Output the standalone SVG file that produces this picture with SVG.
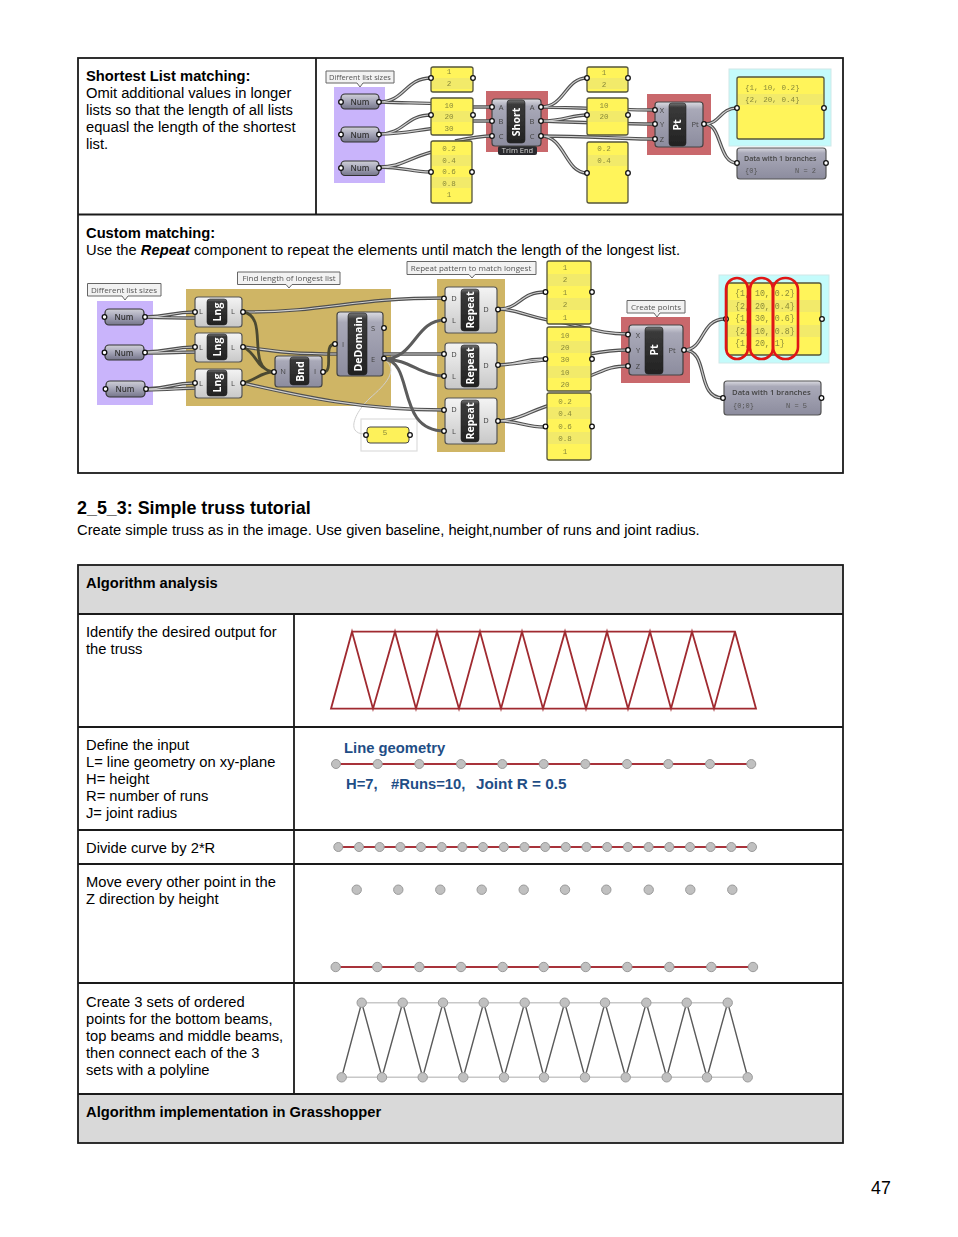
<svg xmlns="http://www.w3.org/2000/svg" xmlns:xlink="http://www.w3.org/1999/xlink" width="958" height="1237" viewBox="0 0 958 1237">
<style>
text{font-family:"Liberation Sans",Arial,sans-serif;fill:#000}
.b{font-size:14.72px}
.bb{font-size:14.72px;font-weight:bold}
.grid{fill:none;stroke:#1a1a1a;stroke-width:1.8}
.wo{fill:none;stroke:#505050;stroke-width:3.4}
.wi{fill:none;stroke:#d0d0d0;stroke-width:1.2}
.wd{fill:none;stroke:#4c4a30;stroke-width:2.800}
.wg{fill:none;stroke:#5c5c5c;stroke-width:3}
.pan{fill:#fff45a;stroke:#55553a;stroke-width:1.300}
.st{fill:#f2ea6a}
.pt{font-family:"Liberation Mono",monospace;font-size:7.6px;fill:#8a8a3a;text-anchor:middle}
.pl{font-family:"Liberation Mono",monospace;font-size:7.6px;fill:#8a8a3a}
.pm{font-size:8.3px}
.comp{fill:url(#gb);stroke:#444;stroke-width:1.200}
.lt{fill:url(#gl);stroke:#555;stroke-width:1.200}
.blk{fill:url(#gk);stroke:#222;stroke-width:.6}
.nm{font-family:"Open Sans",sans-serif;font-size:10.5px;font-weight:bold;fill:#fff;text-anchor:middle}
.pn{font-family:"Open Sans",sans-serif;font-size:7.5px;fill:#444;text-anchor:middle}
.num{fill:url(#gn);stroke:#333;stroke-width:1.200}
.nt{font-family:"Open Sans",sans-serif;font-size:8px;font-weight:600;fill:#333;text-anchor:middle}
.p{fill:#fff;stroke:#111;stroke-width:1.300}
.tip{fill:#f2f2f2;stroke:#666;stroke-width:1}
.tt{font-family:"Open Sans",sans-serif;font-size:8px;fill:#555;text-anchor:middle}
.trim{font-family:"Open Sans",sans-serif;font-size:7.5px;fill:#d8d8d8;text-anchor:middle}
.pur{fill:#c9b4fb}.gold{fill:#cfb565}.red{fill:#c9686c}.cy{fill:#c4fbfb;stroke:#cfe8e8}
.oval{fill:none;stroke:#e01818;stroke-width:2.6}
.view{fill:url(#gb);stroke:#555;stroke-width:1.200}
.vt{font-family:"Open Sans",sans-serif;font-size:7.7px;font-weight:600;fill:#444}
.vs{font-family:"Liberation Mono",monospace;font-size:7px;fill:#555}
.tr{fill:none;stroke:#a02a30;stroke-width:1.800}
.rl{stroke:#a8323a;stroke-width:2}
.j{fill:#c0c0c0;stroke:#9a9a9a;stroke-width:1}
.tg{stroke:#5a5a5a;stroke-width:1.400;fill:none}
.tl{stroke:#c8c8c8;stroke-width:1.500}
.bl{font-weight:bold;font-size:14.8px;fill:#1f4e86}
.h{font-size:17.9px;font-weight:bold}
.pg{font-size:17.8px}
</style>
<defs>
<filter id="soft" x="-2%" y="-2%" width="104%" height="104%"><feGaussianBlur stdDeviation="0.4"/></filter>
<linearGradient id="gb" x1="0" y1="0" x2="0" y2="1"><stop offset="0" stop-color="#dcdce2"/><stop offset=".16" stop-color="#a9a9b8"/><stop offset="1" stop-color="#8c8c9e"/></linearGradient>
<linearGradient id="gl" x1="0" y1="0" x2="0" y2="1"><stop offset="0" stop-color="#f4f4f4"/><stop offset="1" stop-color="#c8c8c8"/></linearGradient>
<linearGradient id="gk" x1="0" y1="0" x2="0" y2="1"><stop offset="0" stop-color="#777"/><stop offset=".1" stop-color="#3a3a3a"/><stop offset="1" stop-color="#222"/></linearGradient>
<linearGradient id="gn" x1="0" y1="0" x2="0" y2="1"><stop offset="0" stop-color="#d0d0d8"/><stop offset=".45" stop-color="#a8a8ba"/><stop offset="1" stop-color="#75758a"/></linearGradient>
<path id="w1" d="M379 102C405 102 405 78 431 78M379 102C410 103 420 103 445 104M379 134C405 134 405 115 431 115M379 134C405 134 415 130 445 127M379 167C405 167 410 155 445 149M379 167C405 167 410 172 431 172M455 107H492M455 121H492M455 141C470 138 480 136 492 136M541 107C565 107 565 78 587 78M541 107C590 108 620 110 655 110M541 121C565 121 570 115 587 115M541 121C590 123 620 124 655 124M541 136C590 136 620 139 655 139M541 136C565 136 565 173 587 173M705 124C720 124 720 108 737 108M705 124C722 124 718 163 737 163"/>
<path id="w2" d="M145 317C170 317 170 312 195 312M145 317C170 318 180 318 200 318M145 352C170 352 170 347 195 347M145 353C170 353 180 352 200 352M145 389C170 389 170 383 195 383M145 390C170 390 180 388 200 388M243 312C330 312 350 298 445 298M243 347C270 350 280 354 340 354H445M243 383C300 396 360 410 445 410"/>
<path id="w3" d="M243 312C270 316 245 368 273 372M243 347C258 354 255 368 273 372M243 383C255 380 262 372 273 372M323 372C335 372 322 344 335 344"/>
<path id="w5" d="M384 359C415 359 415 320 445 320M384 359C410 359 420 376 445 376M384 359C415 362 395 431 445 431"/>
<path id="w4" d="M499 309C520 309 520 292 545 292M499 309C520 310 530 318 560 322C590 328 600 334 628 334M499 365C520 365 520 359 545 359M499 365C525 363 560 358 590 354C605 351 615 350 628 350M499 421C520 420 530 410 560 402M499 421C520 421 525 427 545 427M590 376C605 370 610 366 628 366M684 350C705 350 700 319 725 319M684 350C710 350 695 398 723 398"/>
</defs>

<g id="page"><rect width="958" height="1237" fill="#fff"/></g>

<g id="table-1">
<rect class="grid" x="78" y="58" width="765" height="415"/>
<path class="grid" d="M78 214.500H843M316 58V214.500"/>
<text class="bb" x="86" y="81">Shortest List matching:</text>
<text class="b" x="86" y="98">Omit additional values in longer</text>
<text class="b" x="86" y="115">lists so that the length of all lists</text>
<text class="b" x="86" y="132">equasl the length of the shortest</text>
<text class="b" x="86" y="149">list.</text>
<text class="bb" x="86" y="238">Custom matching:</text>
<text class="b" x="86" y="255">Use the <tspan font-weight="bold" font-style="italic">Repeat</tspan> component to repeat the elements until match the length of the longest list.</text>
</g>

<g id="definition-shortest" filter="url(#soft)">
<g id="backdrops-1">
<rect class="pur" x="334" y="87" width="51" height="96"/>
<rect class="red" x="486" y="91" width="62" height="61"/>
<rect class="red" x="647" y="94" width="64" height="61"/>
<rect class="cy" x="729" y="69" width="102" height="77"/>
</g>
<g id="connectors-1"><use href="#w1" class="wo"/><use href="#w1" class="wi"/></g>
<g id="tip-sizes-1"><path class="tip" d="M326 71H394V83H363L360 87L357 83H326Z"/><text class="tt" style="font-size:7.500px" x="360" y="80">Different list sizes</text></g>
<g id="num-a"><rect class="num" x="341" y="94" width="38" height="15" rx="4"/><circle class="p" cx="341" cy="102" r="2.300"/><circle class="p" cx="379" cy="102" r="2.300"/><text class="nt" x="360" y="104.500">Num</text></g>
<g id="num-b"><rect class="num" x="341" y="127" width="38" height="15" rx="4"/><circle class="p" cx="341" cy="134.500" r="2.300"/><circle class="p" cx="379" cy="134.500" r="2.300"/><text class="nt" x="360" y="137.500">Num</text></g>
<g id="num-c"><rect class="num" x="341" y="161" width="38" height="14.500" rx="4"/><circle class="p" cx="341" cy="168" r="2.300"/><circle class="p" cx="379" cy="168" r="2.300"/><text class="nt" x="360" y="171">Num</text></g>
<g id="panel-a1"><rect class="pan" x="431" y="67" width="42" height="25" rx="2"/><rect class="st" x="432" y="78" width="40" height="11"/><circle class="p" cx="431" cy="78" r="2.300"/><circle class="p" cx="473" cy="78" r="2.300"/><text class="pt" x="449" y="74">1</text><text class="pt" x="449" y="86">2</text></g>
<g id="panel-a2"><rect class="pan" x="431" y="98" width="42" height="37" rx="2"/><rect class="st" x="432" y="111" width="40" height="11"/><circle class="p" cx="431" cy="115" r="2.300"/><circle class="p" cx="473" cy="115" r="2.300"/><text class="pt" x="449" y="107.500">10</text><text class="pt" x="449" y="119">20</text><text class="pt" x="449" y="131">30</text></g>
<g id="panel-a3"><rect class="pan" x="431" y="141" width="41" height="62" rx="2"/><rect class="st" x="432" y="155" width="39" height="11"/><rect class="st" x="432" y="177" width="39" height="11"/><circle class="p" cx="431" cy="172" r="2.300"/><circle class="p" cx="472" cy="172" r="2.300"/><text class="pt" x="449" y="151">0.2</text><text class="pt" x="449" y="162.500">0.4</text><text class="pt" x="449" y="174">0.6</text><text class="pt" x="449" y="185.500">0.8</text><text class="pt" x="449" y="197">1</text></g>
<g id="short-end"><rect x="498" y="146" width="39" height="9" rx="2" fill="#2c2c2e"/><text class="trim" x="517.500" y="153">Trim End</text>
<rect class="comp" x="492" y="99" width="49" height="47" rx="3"/><rect class="blk" x="507" y="100" width="18" height="43" rx="3"/><text class="nm" transform="translate(520 122) rotate(-90)">Short</text>
<text class="pn" x="501" y="110">A</text><text class="pn" x="501" y="124">B</text><text class="pn" x="501" y="139">C</text><text class="pn" x="532" y="110">A</text><text class="pn" x="532" y="124">B</text><text class="pn" x="532" y="139">C</text>
<circle class="p" cx="492" cy="107" r="2.300"/><circle class="p" cx="492" cy="121" r="2.300"/><circle class="p" cx="492" cy="136" r="2.300"/><circle class="p" cx="541" cy="107" r="2.300"/><circle class="p" cx="541" cy="121" r="2.300"/><circle class="p" cx="541" cy="136" r="2.300"/></g>
<g id="panel-b1"><rect class="pan" x="587" y="67" width="41" height="25" rx="2"/><rect class="st" x="588" y="78" width="39" height="11"/><circle class="p" cx="587" cy="78" r="2.300"/><circle class="p" cx="628" cy="78" r="2.300"/><text class="pt" x="604" y="75">1</text><text class="pt" x="604" y="86.500">2</text></g>
<g id="panel-b2"><rect class="pan" x="587" y="98" width="41" height="37" rx="2"/><rect class="st" x="588" y="111" width="39" height="11"/><circle class="p" cx="587" cy="115" r="2.300"/><circle class="p" cx="628" cy="115" r="2.300"/><text class="pt" x="604" y="107.500">10</text><text class="pt" x="604" y="119">20</text></g>
<g id="panel-b3"><rect class="pan" x="587" y="142" width="41" height="61" rx="2"/><rect class="st" x="588" y="155" width="39" height="11"/><circle class="p" cx="587" cy="173" r="2.300"/><circle class="p" cx="628" cy="173" r="2.300"/><text class="pt" x="604" y="151">0.2</text><text class="pt" x="604" y="163">0.4</text></g>
<g id="pt-1"><rect class="comp" x="655" y="102" width="48" height="45" rx="3"/><rect class="blk" x="669" y="103" width="17" height="43" rx="3"/><text class="nm" transform="translate(681 125) rotate(-90)">Pt</text>
<text class="pn" x="662" y="113">X</text><text class="pn" x="662" y="127">Y</text><text class="pn" x="662" y="142">Z</text><text class="pn" x="695" y="127">Pt</text>
<circle class="p" cx="655" cy="110" r="2.300"/><circle class="p" cx="655" cy="124" r="2.300"/><circle class="p" cx="655" cy="139" r="2.300"/><circle class="p" cx="704" cy="124" r="2.300"/></g>
<g id="panel-out-1"><rect class="pan" x="737" y="77" width="87" height="62" rx="2"/><rect class="st" x="738" y="94" width="85" height="11"/><circle class="p" cx="737" cy="108" r="2.300"/><circle class="p" cx="824" cy="108" r="2.300"/><text class="pl" x="745" y="90">{1, 10, 0.2}</text><text class="pl" x="745" y="102">{2, 20, 0.4}</text></g>
<g id="viewer-1"><rect class="view" x="737" y="148" width="89" height="31" rx="3"/><circle class="p" cx="737" cy="163" r="2.300"/><circle class="p" cx="826" cy="163" r="2.300"/><text class="vt" style="font-size:7.100px" x="744" y="160.500">Data with 1 branches</text><text class="vs" x="745" y="173">{0}</text><text class="vs" x="795" y="173">N = 2</text></g>
</g>

<g id="definition-custom" filter="url(#soft)">
<g id="backdrops-2">
<rect class="pur" x="97" y="301" width="56" height="104"/>
<rect class="gold" x="186" y="289" width="205" height="117"/>
<rect class="gold" x="437" y="279" width="68" height="173"/>
<rect class="red" x="621" y="317" width="69" height="66"/>
<rect class="cy" x="719" y="275" width="110" height="88"/>
<rect x="361" y="419" width="56" height="32" fill="#fff" stroke="#ddd" stroke-width="1.200"/>
</g>
<g id="connectors-2">
<path d="M384 359C400 370 385 385 370 398C355 412 345 434 365 434" fill="none" stroke="#cfcfcf" stroke-width="1"/>
<use href="#w2" class="wo"/><use href="#w2" class="wi"/>
<use href="#w3" class="wd"/>
<use href="#w5" class="wg"/>
<use href="#w4" class="wo"/><use href="#w4" class="wi"/>
</g>
<g id="tip-sizes-2"><path class="tip" d="M87.500 283.500H161V296H128L125 300L122 296H87.500Z"/><text class="tt" x="124" y="293">Different list sizes</text></g>
<g id="tip-longest"><path class="tip" d="M237.500 272H340V284.500H292L289 288L286 284.500H237.500Z"/><text class="tt" x="289" y="281">Find length of longest list</text></g>
<g id="tip-repeat"><path class="tip" d="M407 261.500H536V274.500H475L472 278L469 274.500H407Z"/><text class="tt" x="471" y="271">Repeat pattern to match longest</text></g>
<g id="tip-points"><path class="tip" d="M627 300.500H685V313H660L657 317L654 313H627Z"/><text class="tt" x="656" y="309.500">Create points</text></g>
<g id="num-d"><rect class="num" x="105" y="309" width="39" height="16" rx="4"/><circle class="p" cx="104.500" cy="317" r="2.300"/><circle class="p" cx="145" cy="317" r="2.300"/><text class="nt" x="124" y="320">Num</text></g>
<g id="num-e"><rect class="num" x="105" y="345" width="39" height="15" rx="4"/><circle class="p" cx="104.500" cy="352.500" r="2.300"/><circle class="p" cx="145" cy="352.500" r="2.300"/><text class="nt" x="124" y="355.500">Num</text></g>
<g id="num-f"><rect class="num" x="106" y="381" width="39" height="16" rx="4"/><circle class="p" cx="105.500" cy="389" r="2.300"/><circle class="p" cx="146" cy="389" r="2.300"/><text class="nt" x="125" y="392">Num</text></g>
<g id="lng-a"><rect class="lt" x="195" y="297" width="47" height="30" rx="3"/><rect class="blk" x="207" y="299" width="20" height="26" rx="3"/><text class="nm" transform="translate(221 312) rotate(-90)">Lng</text><text class="pn" x="201" y="314">L</text><text class="pn" x="233" y="314">L</text><circle class="p" cx="195" cy="312" r="2.300"/><circle class="p" cx="243" cy="312" r="2.300"/></g>
<g id="lng-b"><rect class="lt" x="195" y="333" width="47" height="29" rx="3"/><rect class="blk" x="207" y="334" width="20" height="26" rx="3"/><text class="nm" transform="translate(221 347) rotate(-90)">Lng</text><text class="pn" x="201" y="350">L</text><text class="pn" x="233" y="350">L</text><circle class="p" cx="195" cy="347" r="2.300"/><circle class="p" cx="243" cy="347" r="2.300"/></g>
<g id="lng-c"><rect class="lt" x="195" y="369" width="47" height="29" rx="3"/><rect class="blk" x="207" y="370" width="20" height="26" rx="3"/><text class="nm" transform="translate(221 383) rotate(-90)">Lng</text><text class="pn" x="201" y="386">L</text><text class="pn" x="233" y="386">L</text><circle class="p" cx="195" cy="383" r="2.300"/><circle class="p" cx="243" cy="383" r="2.300"/></g>
<g id="bnd"><rect class="comp" x="275" y="356" width="47" height="31" rx="3"/><rect class="blk" x="290" y="357" width="19" height="28" rx="3"/><text class="nm" transform="translate(303.500 371.500) rotate(-90)">Bnd</text><text class="pn" x="283" y="374">N</text><text class="pn" x="315" y="374">I</text><circle class="p" cx="274" cy="372" r="2.300"/><circle class="p" cx="323" cy="372" r="2.300"/></g>
<g id="dedomain"><rect class="comp" x="337" y="312" width="46" height="64" rx="3"/><rect class="blk" x="348" y="313" width="19" height="62" rx="3"/><text class="nm" transform="translate(361.500 344) rotate(-90)">DeDomain</text><text class="pn" x="343" y="347">I</text><text class="pn" x="373" y="331">S</text><text class="pn" x="373" y="362">E</text><circle class="p" cx="335" cy="344" r="2.300"/><circle class="p" cx="384" cy="328" r="2.300"/><circle class="p" cx="384" cy="358.500" r="2.300"/></g>
<g id="panel-five"><rect x="367" y="427" width="42" height="16" rx="3" fill="#fdf15a" stroke="#444"/><circle class="p" cx="366" cy="435" r="2.300"/><circle class="p" cx="410" cy="435" r="2.300"/><text class="pt" x="385" y="435">5</text></g>
<g id="repeat-a"><rect class="lt" x="445" y="287" width="52" height="46" rx="3"/><rect class="blk" x="461" y="289" width="18" height="42" rx="3"/><text class="nm" transform="translate(474 310) rotate(-90)">Repeat</text><text class="pn" x="454" y="301">D</text><text class="pn" x="454" y="323">L</text><text class="pn" x="486" y="312">D</text><circle class="p" cx="444" cy="298.500" r="2.300"/><circle class="p" cx="444" cy="320" r="2.300"/><circle class="p" cx="498" cy="309.500" r="2.300"/></g>
<g id="repeat-b"><rect class="lt" x="445" y="343" width="52" height="46" rx="3"/><rect class="blk" x="461" y="345" width="18" height="42" rx="3"/><text class="nm" transform="translate(474 366) rotate(-90)">Repeat</text><text class="pn" x="454" y="357">D</text><text class="pn" x="454" y="379">L</text><text class="pn" x="486" y="368">D</text><circle class="p" cx="444" cy="354" r="2.300"/><circle class="p" cx="444" cy="376" r="2.300"/><circle class="p" cx="498" cy="365" r="2.300"/></g>
<g id="repeat-c"><rect class="lt" x="445" y="398" width="52" height="46" rx="3"/><rect class="blk" x="461" y="400" width="18" height="42" rx="3"/><text class="nm" transform="translate(474 421) rotate(-90)">Repeat</text><text class="pn" x="454" y="412">D</text><text class="pn" x="454" y="434">L</text><text class="pn" x="486" y="423">D</text><circle class="p" cx="444" cy="410" r="2.300"/><circle class="p" cx="444" cy="431" r="2.300"/><circle class="p" cx="498" cy="421" r="2.300"/></g>
<g id="panel-c1"><rect class="pan" x="547" y="261" width="44" height="63" rx="2"/><rect class="st" x="548" y="274" width="42" height="12"/><rect class="st" x="548" y="298" width="42" height="12"/><circle class="p" cx="545.500" cy="292" r="2.300"/><circle class="p" cx="592" cy="292" r="2.300"/><text class="pt" x="565" y="269.500">1</text><text class="pt" x="565" y="282">2</text><text class="pt" x="565" y="294.500">1</text><text class="pt" x="565" y="307">2</text><text class="pt" x="565" y="319.500">1</text></g>
<g id="panel-c2"><rect class="pan" x="547" y="327" width="44" height="64" rx="2"/><rect class="st" x="548" y="341" width="42" height="12"/><rect class="st" x="548" y="366" width="42" height="12"/><circle class="p" cx="545.500" cy="359" r="2.300"/><circle class="p" cx="592" cy="359" r="2.300"/><text class="pt" x="565" y="337.500">10</text><text class="pt" x="565" y="350">20</text><text class="pt" x="565" y="362">30</text><text class="pt" x="565" y="375">10</text><text class="pt" x="565" y="387">20</text></g>
<g id="panel-c3"><rect class="pan" x="547" y="393" width="44" height="67" rx="2"/><rect class="st" x="548" y="407" width="42" height="12"/><rect class="st" x="548" y="432" width="42" height="12"/><circle class="p" cx="545.500" cy="426.500" r="2.300"/><circle class="p" cx="592" cy="426.500" r="2.300"/><text class="pt" x="565" y="403.500">0.2</text><text class="pt" x="565" y="416">0.4</text><text class="pt" x="565" y="428.500">0.6</text><text class="pt" x="565" y="441">0.8</text><text class="pt" x="565" y="453.500">1</text></g>
<g id="pt-2"><rect class="comp" x="629" y="325" width="54" height="50" rx="3"/><rect class="blk" x="645" y="327" width="18" height="47" rx="3"/><text class="nm" transform="translate(658 350) rotate(-90)">Pt</text><text class="pn" x="638" y="338">X</text><text class="pn" x="638" y="353">Y</text><text class="pn" x="638" y="369">Z</text><text class="pn" x="672" y="353">Pt</text><circle class="p" cx="628" cy="334.500" r="2.300"/><circle class="p" cx="628" cy="350" r="2.300"/><circle class="p" cx="628" cy="366" r="2.300"/><circle class="p" cx="684" cy="350" r="2.300"/></g>
<g id="panel-out-2"><rect class="pan" x="727" y="283" width="94" height="72" rx="2"/><rect class="st" x="728" y="300" width="92" height="12"/><rect class="st" x="728" y="325" width="92" height="12"/><circle class="p" cx="726" cy="319" r="2.300"/><circle class="p" cx="822" cy="319" r="2.300"/><text class="pl pm" x="735" y="296">{1, 10, 0.2}</text><text class="pl pm" x="735" y="308.500">{2, 20, 0.4}</text><text class="pl pm" x="735" y="321">{1, 30, 0.6}</text><text class="pl pm" x="735" y="333.500">{2, 10, 0.8}</text><text class="pl pm" x="735" y="346">{1, 20, 1}</text></g>
<g id="viewer-2"><rect class="view" x="724" y="381" width="97" height="34" rx="3"/><circle class="p" cx="723" cy="398" r="2.300"/><circle class="p" cx="821.500" cy="398" r="2.300"/><text class="vt" x="732" y="394.500">Data with 1 branches</text><text class="vs" x="733" y="408">{0;0}</text><text class="vs" x="786" y="408">N = 5</text></g>
<g id="highlight-ovals">
<rect class="oval" x="726" y="278" width="22" height="81" rx="11"/>
<rect class="oval" x="750" y="278" width="23" height="81" rx="11"/>
<rect class="oval" x="773" y="278" width="25" height="81" rx="12"/>
</g>
</g>

<g id="section-title">
<text class="h" x="77" y="514">2_5_3: Simple truss tutorial</text>
<text class="b" x="77" y="535">Create simple truss as in the image. Use given baseline, height,number of runs and joint radius.</text>
</g>

<g id="table-2">
<rect x="78" y="565" width="765" height="49" fill="#d9d9d9"/>
<rect x="78" y="1094" width="765" height="49" fill="#d9d9d9"/>
<rect class="grid" x="78" y="565" width="765" height="578"/>
<path class="grid" d="M78 614H843M78 727H843M78 830H843M78 864H843M78 983H843M78 1094H843M294 614V1094"/>
<text class="bb" x="86" y="588">Algorithm analysis</text>
<text class="b" x="86" y="637">Identify the desired output for</text>
<text class="b" x="86" y="654">the truss</text>
<text class="b" x="86" y="750">Define the input</text>
<text class="b" x="86" y="767">L= line geometry on xy-plane</text>
<text class="b" x="86" y="784">H= height</text>
<text class="b" x="86" y="801">R= number of runs</text>
<text class="b" x="86" y="818">J= joint radius</text>
<text class="b" x="86" y="853">Divide curve by 2*R</text>
<text class="b" x="86" y="887">Move every other point in the</text>
<text class="b" x="86" y="904">Z direction by height</text>
<text class="b" x="86" y="1007">Create 3 sets of ordered</text>
<text class="b" x="86" y="1024">points for the bottom beams,</text>
<text class="b" x="86" y="1041">top beams and middle beams,</text>
<text class="b" x="86" y="1058">then connect each of the 3</text>
<text class="b" x="86" y="1075">sets with a polyline</text>
<text class="bb" x="86" y="1117">Algorithm implementation in Grasshopper</text>
</g>

<g id="truss-output">
<path class="tr" d="M331 708.700H756L735 631.700H352ZM331 708.700L352 631.700L373 708.700L395 631.700L416 708.700L437 631.700L459 708.700L480 631.700L501 708.700L522 631.700L543 708.700L565 631.700L586 708.700L607 631.700L628 708.700L650 631.700L671 708.700L692 631.700L714 708.700L735 631.700"/>
</g>

<g id="truss-input">
<text class="bl" x="344" y="752.500">Line geometry</text>
<text class="bl" y="789"><tspan x="346">H=7,</tspan><tspan x="391">#Runs=10,</tspan><tspan x="476" style="font-size:15.300px">Joint R = 0.5</tspan></text>
<path class="rl" d="M336 764H751"/>
<g class="j"><circle cx="336" cy="764" r="4.500"/><circle cx="377.700" cy="764" r="4.500"/><circle cx="419.300" cy="764" r="4.500"/><circle cx="461" cy="764" r="4.500"/><circle cx="502.300" cy="764" r="4.500"/><circle cx="543.700" cy="764" r="4.500"/><circle cx="585.300" cy="764" r="4.500"/><circle cx="627" cy="764" r="4.500"/><circle cx="668.300" cy="764" r="4.500"/><circle cx="710" cy="764" r="4.500"/><circle cx="751.300" cy="764" r="4.500"/></g>
</g>

<g id="truss-divide">
<path class="rl" d="M338 847H752"/>
<g class="j"><circle cx="338.300" cy="847" r="4.500"/><circle cx="359" cy="847" r="4.500"/><circle cx="379.700" cy="847" r="4.500"/><circle cx="400.400" cy="847" r="4.500"/><circle cx="421" cy="847" r="4.500"/><circle cx="441.700" cy="847" r="4.500"/><circle cx="462.400" cy="847" r="4.500"/><circle cx="483" cy="847" r="4.500"/><circle cx="503.800" cy="847" r="4.500"/><circle cx="524.500" cy="847" r="4.500"/><circle cx="545.200" cy="847" r="4.500"/><circle cx="565.800" cy="847" r="4.500"/><circle cx="586.500" cy="847" r="4.500"/><circle cx="607.200" cy="847" r="4.500"/><circle cx="627.900" cy="847" r="4.500"/><circle cx="648.600" cy="847" r="4.500"/><circle cx="669.300" cy="847" r="4.500"/><circle cx="690" cy="847" r="4.500"/><circle cx="710.600" cy="847" r="4.500"/><circle cx="731.300" cy="847" r="4.500"/><circle cx="752" cy="847" r="4.500"/></g>
</g>

<g id="truss-move">
<g class="j"><circle cx="356.700" cy="889.700" r="4.700"/><circle cx="398.300" cy="889.700" r="4.700"/><circle cx="440.300" cy="889.700" r="4.700"/><circle cx="481.700" cy="889.700" r="4.700"/><circle cx="523.700" cy="889.700" r="4.700"/><circle cx="565" cy="889.700" r="4.700"/><circle cx="606.300" cy="889.700" r="4.700"/><circle cx="648.700" cy="889.700" r="4.700"/><circle cx="690.300" cy="889.700" r="4.700"/><circle cx="732.300" cy="889.700" r="4.700"/></g>
<path class="rl" d="M335.700 967H753"/>
<g class="j"><circle cx="335.700" cy="967" r="4.700"/><circle cx="377.300" cy="967" r="4.700"/><circle cx="419.300" cy="967" r="4.700"/><circle cx="461" cy="967" r="4.700"/><circle cx="502.700" cy="967" r="4.700"/><circle cx="543.700" cy="967" r="4.700"/><circle cx="585.700" cy="967" r="4.700"/><circle cx="627.300" cy="967" r="4.700"/><circle cx="669.300" cy="967" r="4.700"/><circle cx="711.300" cy="967" r="4.700"/><circle cx="753" cy="967" r="4.700"/></g>
</g>

<g id="truss-polyline">
<path class="tl" d="M361.700 1002.700H727.700M341.700 1077.300H747.700"/>
<path class="tg" d="M341.700 1077.300L361.700 1002.700L382 1077.300L402.700 1002.700L422.700 1077.300L443 1002.700L463.300 1077.300L483.700 1002.700L504 1077.300L524.700 1002.700L544 1077.300L564.700 1002.700L585 1077.300L605 1002.700L625.700 1077.300L646.300 1002.700L666.700 1077.300L686.700 1002.700L707 1077.300L727.700 1002.700L747.700 1077.300"/>
<g class="j"><circle cx="361.700" cy="1002.700" r="4.700"/><circle cx="402.700" cy="1002.700" r="4.700"/><circle cx="443" cy="1002.700" r="4.700"/><circle cx="483.700" cy="1002.700" r="4.700"/><circle cx="524.700" cy="1002.700" r="4.700"/><circle cx="564.700" cy="1002.700" r="4.700"/><circle cx="605" cy="1002.700" r="4.700"/><circle cx="646.300" cy="1002.700" r="4.700"/><circle cx="686.700" cy="1002.700" r="4.700"/><circle cx="727.700" cy="1002.700" r="4.700"/><circle cx="341.700" cy="1077.300" r="4.700"/><circle cx="382" cy="1077.300" r="4.700"/><circle cx="422.700" cy="1077.300" r="4.700"/><circle cx="463.300" cy="1077.300" r="4.700"/><circle cx="504" cy="1077.300" r="4.700"/><circle cx="544" cy="1077.300" r="4.700"/><circle cx="585" cy="1077.300" r="4.700"/><circle cx="625.700" cy="1077.300" r="4.700"/><circle cx="666.700" cy="1077.300" r="4.700"/><circle cx="707" cy="1077.300" r="4.700"/><circle cx="747.700" cy="1077.300" r="4.700"/></g>
</g>

<text id="page-number" class="pg" x="871" y="1194">47</text>
</svg>
